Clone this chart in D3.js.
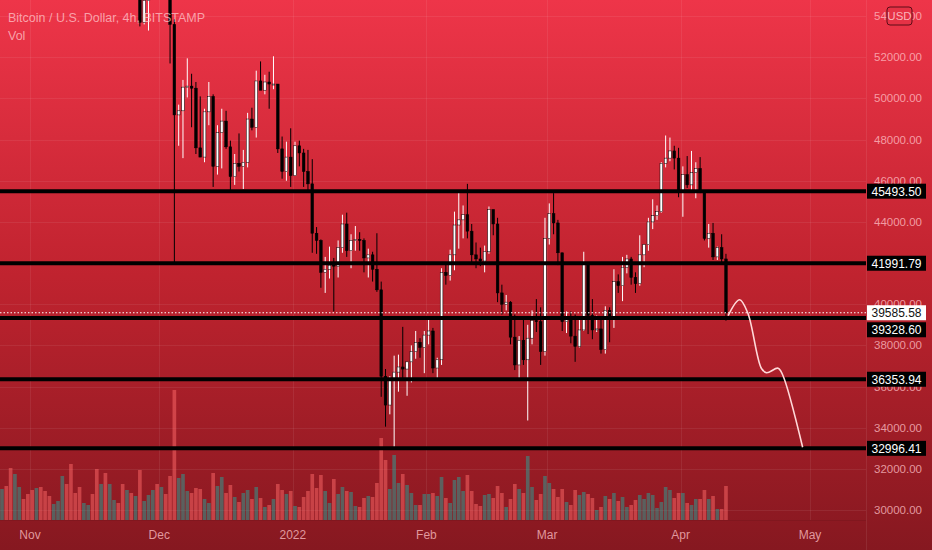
<!DOCTYPE html>
<html>
<head>
<meta charset="utf-8">
<script src="https://cdn.jsdelivr.net/npm/d3@7"></script>
<style>
  html, body { margin: 0; padding: 0; background: #8a1922; }
  svg { display: block; }
  text { font-family: "Liberation Sans", Arial, sans-serif; }
</style>
</head>
<body>
<svg id="chart" width="932" height="550"></svg>
<script>
// ---------------- DATA ----------------
const firstDay = "2021-10-25";   // first daily candle
// daily candles [open, high, low, close]
const ohlc = [
  // Oct 25 - Oct 31
  [60900,63700,60650,63050],[63050,63300,59800,60300],[60300,61500,58000,58450],[58450,62400,57600,60600],
  [60600,62950,60200,62250],[62250,62300,60700,61850],[61850,62400,60000,61300],
  // Nov
  [61300,62400,59500,61000],[61000,64250,60700,63250],[63250,63500,60400,62900],[62900,63100,60700,61400],
  [61400,62600,60800,61000],[61000,61550,60100,61500],[61500,63300,61350,63300],[63300,67800,63200,67550],
  [67550,68500,66400,66950],[66950,69000,62800,64900],[64900,65600,64100,64800],[64800,65450,62300,64150],
  [64150,64950,63400,64400],[64400,65500,63600,65500],[65500,66300,63400,63600],[63600,63600,58600,60100],
  [60100,60800,58400,60350],[60350,60950,56500,56900],[56900,58350,55600,58100],[58100,59850,57400,59700],
  [59700,60000,58500,58700],[58700,59300,55650,56300],[56300,57850,55300,57550],[57550,57750,55900,57150],
  [57150,59400,56800,58950],[58950,59150,53500,53700],[53700,55300,53600,54750],[54750,57400,53300,57250],
  [57250,58850,56700,57800],[57800,59200,55900,56950],
  // Dec
  [56950,59050,56500,57200],[57200,57400,55800,56500],[56500,57600,51700,53600],[53600,53850,42000,49200],
  [49200,49700,47700,49400],[49400,50900,47100,50550],[50550,51950,50050,50600],[50600,51200,48600,50500],
  [50500,50800,47300,47600],[47600,50100,47250,47150],[47150,49500,46900,49350],[49350,50800,48700,50100],
  [50100,50200,45700,46700],[46700,48700,46300,48350],[48350,49500,46600,48900],[48900,49400,47550,47650],
  [47650,47950,45500,46200],[46200,47300,45800,46850],[46850,48300,46450,46700],[46700,47500,45600,46900],
  [46900,49300,46650,49000],[49000,49550,48450,48600],[48600,51350,48100,50850],[50850,51800,50450,50400],
  [50400,51150,50200,50800],[50800,51300,49500,50700],[50700,52050,50450,50700],[50700,50700,47350,47550],
  [47550,48150,46100,46450],[46450,47900,46000,47150],[47150,48550,45700,46250],
  // Jan
  [46250,47900,46250,47700],[47700,47950,46700,47350],[47350,47550,45700,46450],[46450,47500,45500,45850],
  [45850,47050,42500,43450],[43450,43750,42450,43100],[43100,43150,40800,41550],[41550,42300,40550,41700],
  [41700,42800,41250,41900],[41900,42250,39650,41850],[41850,43100,41300,42750],[42750,44350,42500,43900],
  [43900,44450,42300,42600],[42600,43400,41750,43100],[43100,43800,42600,43150],[43150,43500,42600,43100],
  [43100,43200,41550,42250],[42250,42700,41300,42400],[42400,42550,41100,41700],[41700,43450,40600,40700],
  [40700,41100,35500,36500],[36500,36850,34050,35100],[35100,36500,34650,36300],[36300,37500,33000,36700],
  [36700,37550,35750,36950],[36950,38900,36300,36850],[36850,37200,35550,37200],[37200,38000,36200,37700],
  [37700,38700,37350,38150],[38150,38350,37400,37900],[37900,38700,36650,38500],
  // Feb
  [38500,39250,38050,38700],[38700,38850,36650,36900],[36900,37400,36300,37300],[37300,41750,37050,41550],
  [41550,41950,40950,41400],[41400,42650,41150,42400],[42400,44500,41650,43850],[43850,45500,42700,44100],
  [44100,44800,43200,44350],[44350,45850,43200,43550],[43550,43900,42000,42400],[42400,43000,41750,42200],
  [42200,42750,41850,42100],[42100,42850,41550,42550],[42550,44750,42450,44600],[44600,44600,43350,43900],
  [43900,44200,40100,40550],[40550,40950,39500,40000],[40000,40450,39700,40100],[40100,40150,38050,38400],
  [38400,39500,36800,37050],[37050,38450,36400,38250],[38250,39250,37050,37300],[37300,39000,34350,38350],
  [38350,39700,38050,39200],[39200,40250,38650,39150],[39150,39850,37050,37700],[37700,44200,37500,43200],
  // Mar
  [43200,44900,42900,44400],[44400,45400,43400,43950],[43950,44100,41900,42500],[42500,42500,38700,39150],
  [39150,39650,38600,39400],[39400,39650,38100,38450],[38450,39500,37200,37950],[37950,39350,37900,38750],
  [38750,42550,38700,41950],[41950,42000,38550,39450],[39450,40250,38300,38750],[38750,39450,38650,38800],
  [38800,39300,37600,37800],[37800,39900,37600,39700],[39700,39850,38150,39300],[39300,41700,38850,41100],
  [41100,41450,40550,40900],[40900,42300,40150,41800],[41800,42400,41500,42200],[42200,42300,40950,41300],
  [41300,41550,40550,41000],[41000,43350,40900,42400],[42400,42900,41800,42900],[42900,44200,42600,44000],
  [44000,45100,43650,44300],[44300,44800,44100,44500],[44500,46900,44450,46850],[46850,48200,46650,47100],
  [47100,48100,46950,47450],[47450,47700,46550,47100],[47100,47600,45200,45500],
  // Apr
  [45500,46700,44250,46300],[46300,47200,45650,45800],[45800,47450,45550,46400],[46400,46900,45150,46600],
  [46600,47150,45400,45500],[45500,45500,43100,43200],[43200,43900,42750,43450],[43450,43950,42150,42300],
  [42300,42800,42150,42750],[42750,43400,42000,42200],[42200,42450,39200,39585.58]
];
// daily volume (BTC)
const volumes = [
  3100,3400,5200,4600,3300,2100,2600,
  3000,3200,3300,2900,2400,1600,1900,4400,3600,5600,2700,3300,1700,1500,2600,5100,3600,4700,3600,2000,1700,3600,3000,2700,2400,5000,1900,2500,3000,3600,
  3300,2600,4400,13000,4200,4600,2900,2700,3200,3100,2100,1700,4700,3400,4300,2700,3500,2300,1800,2700,3000,2100,3300,2200,1300,1500,2100,3600,3000,2600,2900,
  1400,1300,2300,2900,4600,3200,4500,2900,1700,4100,2600,3300,2900,2800,1400,1300,2200,2400,2300,3700,8200,6000,3100,6500,3700,4600,3500,2700,1500,1500,2600,
  2600,2700,2400,4300,2200,1700,4000,4300,2900,4500,2900,1600,1400,2500,2600,2200,3400,2700,1300,2100,3600,3100,2700,6400,3300,2000,2600,4400,
  3700,3100,2300,3100,1800,1500,3000,2500,2800,2600,2200,1000,1300,2400,2100,2700,1900,2300,1300,1500,2000,2500,2100,2700,2500,1200,1800,3300,3000,2200,2700,
  2700,1700,1500,2100,2100,3000,2100,2400,1100,1100,3400
];
// horizontal support/resistance levels
const levels = [45493.50, 41991.79, 39328.60, 36353.94, 32996.41];
const lastPrice = 39585.58;
// projected path drawn by the author
const projDates  = ["2022-04-12T00:00","2022-04-14T16:00","2022-04-16T14:00","2022-04-19T17:00","2022-04-20T22:00","2022-04-23T14:00","2022-04-24T16:00","2022-04-29T07:00"];
const projPrices = [39450, 40220, 39560, 36890, 36670, 36890, 36560, 33050];
// axis ticks
const priceTicks = [30000,32000,34000,36000,38000,40000,42000,44000,46000,48000,50000,52000,54000];
const monthTicks = ["2021-11-01","2021-12-01","2022-01-01","2022-02-01","2022-03-01","2022-04-01","2022-05-01"];
const monthLabels = ["Nov","Dec","2022","Feb","Mar","Apr","May"];
const titleText = "Bitcoin / U.S. Dollar, 4h, BITSTAMP";
const volText = "Vol";
const currency = "USD";

// ---------------- LAYOUT ----------------
const W = 932, H = 550;
const plotR = 866, plotB = 520;
const svg = d3.select("#chart");
const DAY = 864e5;
const t0 = Date.parse(firstDay + "T00:00:00Z");
const candles = ohlc.map((d, i) => ({ t: new Date(t0 + i * DAY + DAY / 2), o: d[0], h: d[1], l: d[2], c: d[3], v: volumes[i] }));

const x = d3.scaleUtc()
  .domain([new Date("2021-11-01T00:00:00Z"), new Date("2022-05-01T00:00:00Z")])
  .range([30, 810]);
const y = d3.scaleLinear().domain([30000, 52000]).range([510, 57.3]);
const yv = d3.scaleLinear().domain([0, 13000]).range([plotB, plotB - 130]);
const dayW = x(new Date(DAY * 1)) - x(new Date(0));
const bw = dayW * 0.62;
const vw = dayW * 0.85;

// background gradient
const defs = svg.append("defs");
const g = defs.append("linearGradient").attr("id", "bg").attr("x1", 0).attr("y1", 0).attr("x2", 0).attr("y2", 1);
g.append("stop").attr("offset", "0%").attr("stop-color", "#ee3549");
g.append("stop").attr("offset", "50%").attr("stop-color", "#c0232f");
g.append("stop").attr("offset", "100%").attr("stop-color", "#861820");
svg.append("rect").attr("width", W).attr("height", H).attr("fill", "url(#bg)");
defs.append("clipPath").attr("id", "plotclip").append("rect").attr("x", 0).attr("y", 0).attr("width", plotR).attr("height", plotB);

// grid
const grid = svg.append("g").attr("stroke", "rgba(255,255,255,0.07)").attr("stroke-width", 1);
grid.selectAll("line.h").data(priceTicks).join("line")
  .attr("x1", 0).attr("x2", plotR).attr("y1", d => Math.round(y(d)) + 0.5).attr("y2", d => Math.round(y(d)) + 0.5);
grid.selectAll("line.v").data(monthTicks).join("line")
  .attr("y1", 0).attr("y2", plotB).attr("x1", d => Math.round(x(new Date(d + "T00:00:00Z"))) + 0.5).attr("x2", d => Math.round(x(new Date(d + "T00:00:00Z"))) + 0.5);
svg.append("line").attr("x1", plotR + 0.5).attr("x2", plotR + 0.5).attr("y1", 0).attr("y2", H)
  .attr("stroke", "rgba(255,255,255,0.08)");
svg.append("line").attr("x1", 0).attr("x2", plotR).attr("y1", plotB + 0.5).attr("y2", plotB + 0.5)
  .attr("stroke", "rgba(0,0,0,0.08)");

const plot = svg.append("g").attr("clip-path", "url(#plotclip)");

// volume
plot.append("g").selectAll("rect").data(candles).join("rect")
  .attr("x", d => x(d.t) - vw / 2).attr("width", vw)
  .attr("y", d => yv(d.v)).attr("height", d => plotB - yv(d.v))
  .attr("fill", d => d.c >= d.o ? "rgba(38,166,154,0.5)" : "rgba(255,105,105,0.5)");

// candles
const cg = plot.append("g");
cg.selectAll("line").data(candles).join("line")
  .attr("x1", d => x(d.t)).attr("x2", d => x(d.t))
  .attr("y1", d => y(d.h)).attr("y2", d => y(d.l))
  .attr("stroke", d => d.c >= d.o ? "#ffffff" : "#000000").attr("stroke-width", 1);
cg.selectAll("rect").data(candles).join("rect")
  .attr("x", d => x(d.t) - bw / 2).attr("width", bw)
  .attr("y", d => y(Math.max(d.o, d.c)))
  .attr("height", d => Math.max(1, Math.abs(y(d.o) - y(d.c))))
  .attr("fill", d => d.c >= d.o ? "#ffffff" : "#000000")
  .attr("stroke", "#000").attr("stroke-width", 0.5);

// levels
plot.append("g").selectAll("line").data(levels).join("line")
  .attr("x1", 0).attr("x2", plotR).attr("y1", d => y(d)).attr("y2", d => y(d))
  .attr("stroke", "#000").attr("stroke-width", 4);

// last price dotted line
plot.append("line").attr("x1", 0).attr("x2", plotR)
  .attr("y1", y(lastPrice)).attr("y2", y(lastPrice))
  .attr("stroke", "#ffffff").attr("stroke-width", 1).attr("stroke-dasharray", "1.5,2");

// projection
const proj = projDates.map((d, i) => ({ t: new Date(d + ":00Z"), p: projPrices[i] }));
plot.append("path").datum(proj)
  .attr("d", d3.line().x(d => x(d.t)).y(d => y(d.p)).curve(d3.curveCatmullRom.alpha(0.5)))
  .attr("fill", "none").attr("stroke", "#ffd9d9").attr("stroke-width", 1.6);

// price axis tick labels
const fmt = d3.format(".2f");
svg.append("g").selectAll("text").data(priceTicks).join("text")
  .attr("x", 898).attr("y", d => y(d)).attr("dy", "0.35em")
  .attr("text-anchor", "middle").attr("font-size", 11.5)
  .attr("fill", "rgba(255,195,200,0.75)").text(d => fmt(d));

// USD box
svg.append("rect").attr("x", 887).attr("y", 7).attr("width", 25).attr("height", 18).attr("rx", 3)
  .attr("fill", "#e63246").attr("stroke", "#5c0c16").attr("stroke-width", 1);
svg.append("text").attr("x", 899.5).attr("y", 16).attr("dy", "0.35em").attr("text-anchor", "middle")
  .attr("font-size", 11.5).attr("fill", "rgba(255,205,210,0.85)").text(currency);

// last price label
const boxH = 15, boxX = 867, boxW = 59;
const lpY = y(lastPrice);
svg.append("rect").attr("x", boxX).attr("y", lpY - boxH / 2).attr("width", boxW).attr("height", boxH).attr("fill", "#ffffff");
svg.append("text").attr("x", boxX + boxW / 2).attr("y", lpY).attr("dy", "0.36em").attr("text-anchor", "middle")
  .attr("font-size", 12).attr("fill", "#111").text(fmt(lastPrice));

// level labels (pushed away from the last-price label when overlapping)
levels.forEach(v => {
  let cy = y(v);
  if (Math.abs(cy - lpY) < boxH + 2) cy = cy > lpY ? lpY + boxH + 2 : lpY - boxH - 2;
  svg.append("rect").attr("x", boxX).attr("y", cy - boxH / 2).attr("width", boxW).attr("height", boxH).attr("fill", "#000");
  svg.append("text").attr("x", boxX + boxW / 2).attr("y", cy).attr("dy", "0.36em").attr("text-anchor", "middle")
    .attr("font-size", 12).attr("fill", "#fff").text(fmt(v));
});

// time axis labels
svg.append("g").selectAll("text").data(monthTicks).join("text")
  .attr("x", d => x(new Date(d + "T00:00:00Z"))).attr("y", 539)
  .attr("text-anchor", "middle").attr("font-size", 12)
  .attr("fill", "rgba(255,195,200,0.75)").text((d, i) => monthLabels[i]);

// title
svg.append("text").attr("x", 8).attr("y", 22).attr("font-size", 12.5)
  .attr("fill", "rgba(255,205,210,0.72)").text(titleText);
svg.append("text").attr("x", 8).attr("y", 40).attr("font-size", 12.5)
  .attr("fill", "rgba(255,205,210,0.72)").text(volText);
</script>
</body>
</html>
